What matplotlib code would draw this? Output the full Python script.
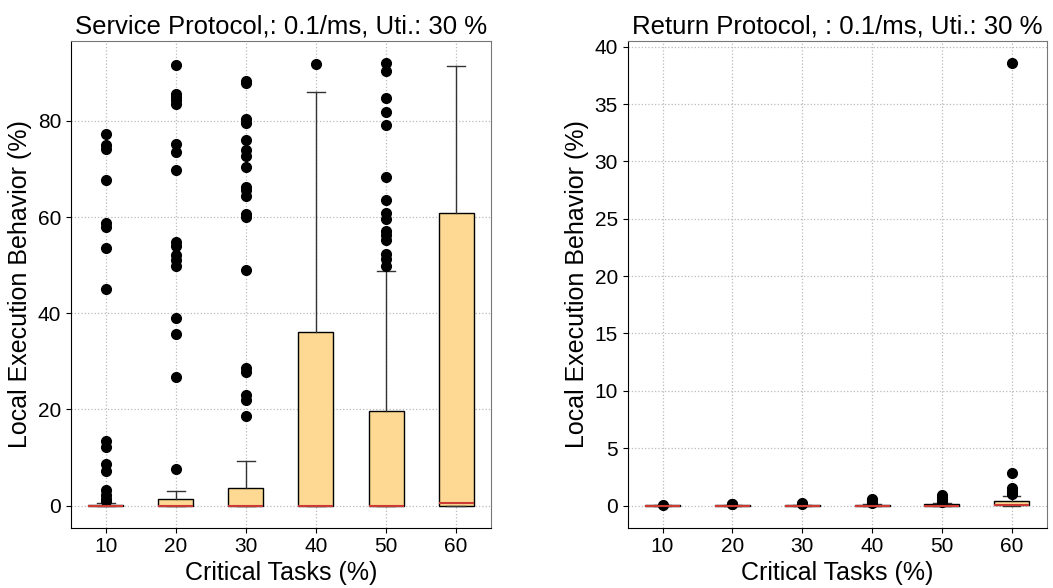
import matplotlib.pyplot as plt

plt.rcParams['font.family'] = ['Liberation Sans', 'DejaVu Sans']

labels = ['10', '20', '30', '40', '50', '60']

# left panel: service protocol
svc_q1 = [0, 0, 0, 0, 0, 0]
svc_med = [0, 0, 0, 0, 0, 0.5]
svc_q3 = [0.2, 1.4, 3.7, 36.0, 19.7, 60.8]
svc_lo = [0, 0, 0, 0, 0, 0]
svc_hi = [0.6, 3.1, 9.2, 86.1, 48.7, 91.5]
svc_fliers = [
    [77.3, 75.1, 74.2, 67.8, 58.8, 57.9, 53.6, 45.1, 13.5, 12.1, 8.7, 7.1, 3.3, 2.1, 1.4, 1.0],
    [91.7, 85.7, 85.0, 84.3, 83.6, 75.3, 73.5, 69.7, 54.8, 53.9, 52.2, 51.1, 49.9, 39.0, 35.6, 26.7, 7.6],
    [88.4, 87.8, 80.5, 79.6, 76.1, 73.9, 72.8, 70.4, 66.2, 65.6, 64.4, 60.7, 60.0, 48.9, 28.7, 27.7,
     22.9, 21.9, 18.6],
    [91.9],
    [92.1, 90.3, 84.8, 81.8, 79.1, 68.3, 63.5, 60.8, 59.7, 57.2, 56.2, 55.2, 52.4, 51.3, 49.9],
    [],
]

# right panel: return protocol
ret_q1 = [0, 0, 0, 0, 0, 0.02]
ret_med = [0, 0, 0, 0, 0, 0.05]
ret_q3 = [0.01, 0.02, 0.03, 0.05, 0.1, 0.37]
ret_lo = [0, 0, 0, 0, 0, 0]
ret_hi = [0.02, 0.04, 0.06, 0.1, 0.2, 0.87]
ret_fliers = [
    [0.05],
    [0.1, 0.15],
    [0.12, 0.2],
    [0.2, 0.3, 0.4, 0.5, 0.55],
    [0.3, 0.45, 0.6, 0.75, 0.9],
    [38.6, 2.8, 1.5, 1.3, 1.1, 1.0],
]


def make_stats(q1, med, q3, lo, hi, fl):
    out = []
    for i in range(len(labels)):
        out.append({'q1': q1[i], 'med': med[i], 'q3': q3[i],
                    'whislo': lo[i], 'whishi': hi[i],
                    'fliers': fl[i], 'label': labels[i]})
    return out


fig = plt.figure(figsize=(10.53, 5.88), dpi=100)
ax1 = fig.add_axes([0.0674, 0.1026, 0.3989, 0.8282])
ax2 = fig.add_axes([0.596, 0.1026, 0.398, 0.8282])

box_style = dict(facecolor='#fdd993', edgecolor='black', linewidth=1.0)
flier_style = dict(marker='o', markerfacecolor='black', markeredgecolor='black', markersize=7)
med_style = dict(color='#cc3b33', linewidth=1.5)
line_style = dict(color='#333333', linewidth=1.0)

for ax, st, title in [
    (ax1, make_stats(svc_q1, svc_med, svc_q3, svc_lo, svc_hi, svc_fliers),
     'Service Protocol,: 0.1/ms, Uti.: 30 %'),
    (ax2, make_stats(ret_q1, ret_med, ret_q3, ret_lo, ret_hi, ret_fliers),
     'Return Protocol, : 0.1/ms, Uti.: 30 %'),
]:
    ax.bxp(st, patch_artist=True, widths=0.5, boxprops=box_style, flierprops=flier_style,
           medianprops=med_style, whiskerprops=line_style, capprops=line_style)
    ax.grid(True, linestyle=':', color='#bbbbbb', linewidth=0.9)
    ax.set_axisbelow(True)
    ax.set_title(title, fontsize=18.5, pad=5)
    ax.set_xlabel('Critical Tasks (%)', fontsize=18, labelpad=3)
    ax.set_ylabel('Local Execution Behavior (%)', fontsize=18, labelpad=4)
    ax.tick_params(labelsize=15)
    for side in ['top', 'right']:
        ax.spines[side].set_color('#777777')
    for side in ['left', 'bottom']:
        ax.spines[side].set_color('black')

ax1.set_yticks([0, 20, 40, 60, 80])
ax2.set_yticks([0, 5, 10, 15, 20, 25, 30, 35, 40])

fig.savefig('out.png', dpi=100)
